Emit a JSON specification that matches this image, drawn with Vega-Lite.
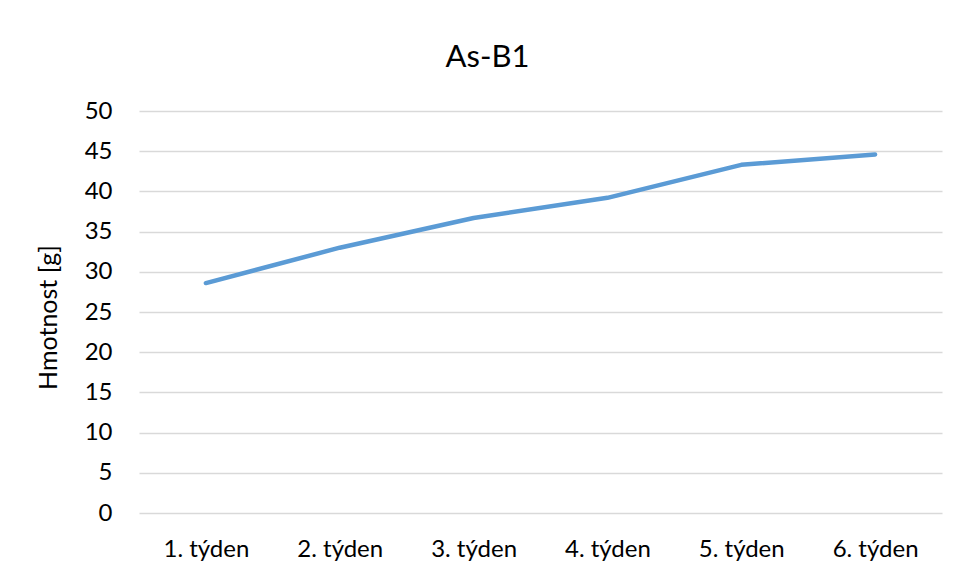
{
  "$schema": "https://vega.github.io/schema/vega-lite/v6.json",
  "width": 803,
  "height": 402,
  "autosize": {"type": "none"},
  "padding": {"left": 139, "top": 111, "right": 18, "bottom": 63},
  "background": "white",
  "title": {
    "text": "As-B1",
    "fontSize": 31,
    "font": "Lato",
    "fontWeight": "normal",
    "color": "#000000",
    "anchor": "middle",
    "dx": -53,
    "offset": 25
  },
  "data": {
    "values": [
      {"tyden": "1. týden", "hmotnost": 28.6},
      {"tyden": "2. týden", "hmotnost": 33.0},
      {"tyden": "3. týden", "hmotnost": 36.7},
      {"tyden": "4. týden", "hmotnost": 39.2},
      {"tyden": "5. týden", "hmotnost": 43.3},
      {"tyden": "6. týden", "hmotnost": 44.6}
    ]
  },
  "mark": {"type": "line", "color": "#5B9BD5", "strokeWidth": 4.5, "strokeCap": "round", "strokeJoin": "round"},
  "encoding": {
    "x": {
      "field": "tyden",
      "type": "ordinal",
      "sort": null,
      "scale": {"type": "point", "padding": 0.5},
      "axis": {
        "title": null,
        "labelAngle": 0,
        "labelFont": "Lato",
        "labelFontSize": 24,
        "labelColor": "#000000",
        "labelPadding": 24,
        "domain": false,
        "ticks": false,
        "grid": false
      }
    },
    "y": {
      "field": "hmotnost",
      "type": "quantitative",
      "scale": {"domain": [0, 50], "nice": false},
      "axis": {
        "title": "Hmotnost [g]",
        "titleFont": "Lato",
        "titleFontSize": 25,
        "titleFontWeight": "normal",
        "titleColor": "#000000",
        "titleAngle": -90,
        "titleX": -91,
        "titleY": 206,
        "titleAlign": "center",
        "titleBaseline": "middle",
        "values": [0, 5, 10, 15, 20, 25, 30, 35, 40, 45, 50],
        "labelFont": "Lato",
        "labelFontSize": 24,
        "labelColor": "#000000",
        "labelPadding": 27,
        "domain": false,
        "ticks": false,
        "grid": true,
        "gridColor": "#D9D9D9",
        "gridWidth": 1.3
      }
    }
  },
  "config": {
    "view": {"stroke": null}
  }
}
